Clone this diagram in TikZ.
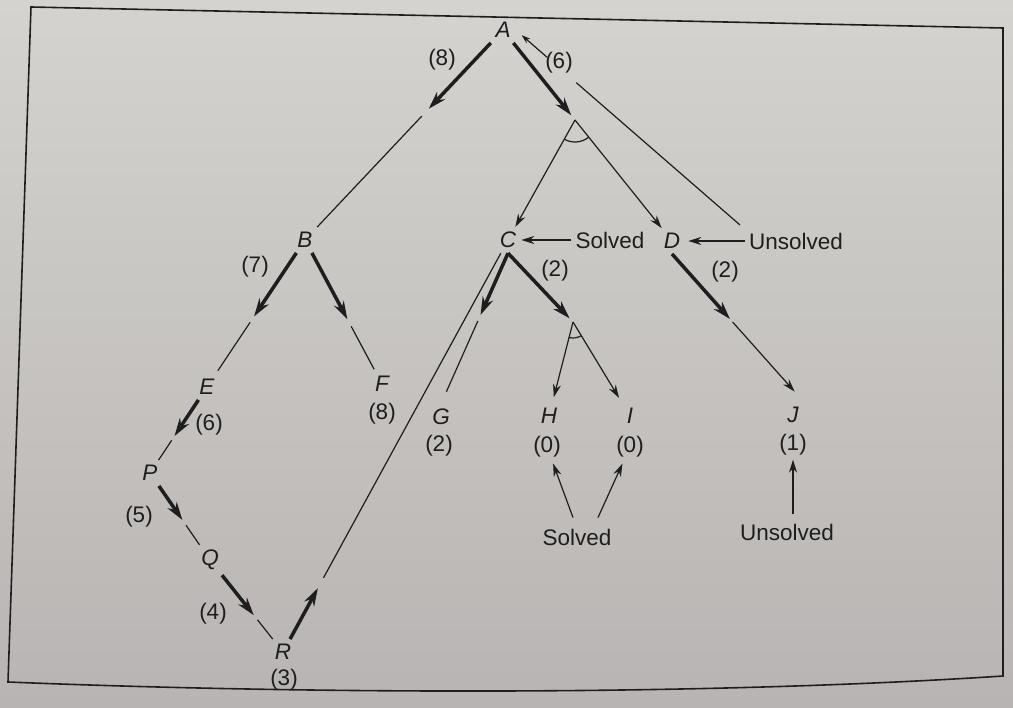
\documentclass[tikz,border=0pt]{standalone}
\usepackage{fontspec}
\setmainfont{Liberation Sans}
\usetikzlibrary{arrows.meta,calc,angles}
\definecolor{ink}{RGB}{30,30,30}
\definecolor{bgtop}{RGB}{212,211,207}
\definecolor{bgbot}{RGB}{184,180,179}
\begin{document}
\begin{tikzpicture}[x=1pt,y=1pt,
  every node/.style={text=ink, inner sep=4pt, font=\fontsize{22.5}{26}\selectfont},
  letter/.style={inner sep=5pt, font=\fontsize{22.5}{26}\selectfont\itshape},
  heavy/.style={draw=ink, line width=3.5pt, -{Stealth[length=18pt,width=11pt]}},
  light/.style={draw=ink, line width=1.2pt},
  lightarrow/.style={light, -{Stealth[length=13pt,width=8pt]}},
  andarc/.style={draw=ink, line width=1.2pt},
]
\useasboundingbox (0,0) rectangle (1013,-708);
\shade[top color=bgtop, bottom color=bgbot] (0,0) rectangle (1013,-708);
\draw[ink, line width=1.6pt] (31,-7) -- (1003,-28) -- (1003,-676)
  .. controls (700,-696) and (300,-694) .. (8,-682) -- cycle;

% letter nodes
\node[letter] (A) at (503,-30) {A};
\node[letter] (B) at (305,-240) {B};
\node[letter] (C) at (508,-240) {C};
\node[letter] (D) at (672,-241) {D};
\node[letter] (E) at (207,-387) {E};
\node[letter] (F) at (382,-384) {F};
\node[letter] (G) at (441,-417) {G};
\node[letter] (H) at (549,-416) {H};
\node[letter] (I) at (630,-416) {I};
\node[letter] (J) at (793,-415) {J};
\node[letter] (P) at (150,-473) {P};
\node[letter] (Q) at (210,-560) {Q};
\node[letter] (R) at (283,-652) {R};

% values under nodes
\node (F8) at (382,-414) {(8)};
\node (G2) at (439,-446) {(2)};
\node (H0) at (547,-447) {(0)};
\node (I0) at (630,-447) {(0)};
\node (J1) at (793,-445) {(1)};
\node (R3) at (284,-680) {(3)};

% edge labels
\node (lAB) at (442,-60) {(8)};
\node (lAC) at (559,-63) {(6)};
\node (lBE) at (255,-267) {(7)};
\node (lEP) at (209,-425) {(6)};
\node (lPQ) at (139,-517) {(5)};
\node (lQR) at (213,-614) {(4)};
\node (lCH) at (555,-271) {(2)};
\node (lDJ) at (725,-272) {(2)};

% status labels
\node (Cs) at (610,-240) {Solved};
\node (Du) at (796,-241) {Unsolved};
\node (sb) at (577,-537) {Solved};
\node (ub) at (787,-532) {Unsolved};

% helper points
\coordinate (andA) at (575,-120);
\coordinate (andC) at (573,-322);
\coordinate (uA) at (740,-225);

% A -> B
\draw[heavy] (A) -- ($(A)!0.375!(B)$);
\draw[light] ($(A)!0.41!(B)$) -- (B);
% A -> (C and D)
\draw[heavy, shorten >=6pt] (A) -- (andA);
\draw[lightarrow] (andA) -- (C);
\draw[lightarrow] (andA) -- (D);
\pic[andarc, angle radius=22pt] {angle = C--andA--D};
% back-up from Unsolved to A
\draw[light] (uA) -- ($(uA)!0.73!(A.east)$);
\draw[light, -{Stealth[length=9pt,width=6pt]}, shorten >=8pt] ($(uA)!0.86!(A.east)$) -- (A.east);

% status arrows
\draw[lightarrow] (Cs) -- (C);
\draw[lightarrow, shorten >=3pt] (Du) -- (D);

% B -> E, F
\draw[heavy] (B) -- ($(B)!0.52!(E)$);
\draw[light, shorten >=4pt] ($(B)!0.56!(E)$) -- (E);
\draw[heavy] (B) -- ($(B)!0.55!(F)$);
\draw[light, shorten >=2pt] ($(B)!0.60!(F)$) -- (F);

% E -> P -> Q -> R
\draw[heavy] (E) -- ($(E)!0.57!(P)$);
\draw[light] ($(E)!0.62!(P)$) -- (P);
\draw[heavy] (P) -- ($(P)!0.54!(Q)$);
\draw[light] ($(P)!0.60!(Q)$) -- (Q);
\draw[heavy] (Q) -- ($(Q)!0.60!(R)$);
\draw[light] ($(Q)!0.65!(R)$) -- (R);
% R -> C
\draw[heavy] (R) -- ($(R)!0.155!(C)$);
\draw[light] ($(R)!0.18!(C)$) -- (C);

% C -> G
\draw[heavy] (C.south) -- ($(C.south)!0.41!(G.north)$);
\draw[light] ($(C.south)!0.45!(G.north)$) -- ($(C.south)!0.92!(G.north)$);
% C -> (H and I)
\draw[heavy, shorten >=5pt] (C.south) -- (andC);
\draw[lightarrow, shorten >=6pt] (andC) -- (H);
\draw[lightarrow, shorten >=6pt] (andC) -- (I);
\pic[andarc, angle radius=16pt] {angle = H--andC--I};

% D -> J
\draw[heavy] (D.south) -- ($(D.south)!0.44!(J.north east)$);
\draw[lightarrow] ($(D.south)!0.46!(J.north east)$) -- ($(D.south)!0.93!(J.north east)$);

% bottom status arrows
\draw[lightarrow, shorten >=2pt] ([xshift=-4pt,yshift=7pt]sb.north) -- (H0);
\draw[lightarrow, shorten >=2pt] ([xshift=21pt,yshift=7pt]sb.north) -- (I0);
\draw[lightarrow, shorten <=6pt] (J1.south |- ub.north) -- (J1.south);
\end{tikzpicture}
\end{document}
